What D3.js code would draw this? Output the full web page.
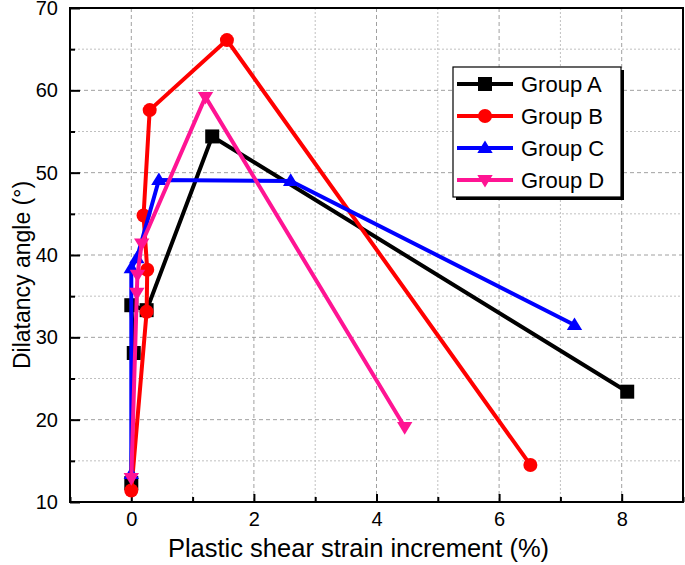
<!DOCTYPE html>
<html><head><meta charset="utf-8">
<script src="https://cdn.jsdelivr.net/npm/d3@7"></script>
<style>body{margin:0;background:#fff}svg{display:block}</style>
</head><body>
<script>
// Data
const groups = ["Group A", "Group B", "Group C", "Group D"];
const colors = ["#000000", "#ff0000", "#0000ff", "#ff1493"];
const symbols = ["square", "circle", "triangle", "triangleDown"];
const groupA = [[0, 12.3], [0.04, 28.1], [0, 33.9], [0.25, 33.3], [1.32, 54.4], [8.09, 23.4]];
const groupB = [[0, 11.4], [0.25, 33.1], [0.26, 38.2], [0.2, 44.8], [0.3, 57.6], [1.56, 66.1], [6.51, 14.5]];
const groupC = [[0, 13.4], [0, 38.4], [0.09, 39.6], [0.45, 49.1], [2.6, 49.0], [7.23, 31.5]];
const groupD = [[0, 12.9], [0.09, 35.4], [0.1, 37.6], [0.17, 41.4], [1.21, 59.2], [4.46, 19.1]];
const series = [groupA, groupB, groupC, groupD];
const xTicks = [0, 2, 4, 6, 8];
const xMinor = [-1, 1, 3, 5, 7, 9];
const yTicks = [10, 20, 30, 40, 50, 60, 70];
const yMinor = [15, 25, 35, 45, 55, 65];

const W = 685, H = 565;
const L = 70, R = 683, T = 8, B = 502;
const FONT = "Liberation Sans, Arial, sans-serif";
const svg = d3.select("body").append("svg").attr("width", W).attr("height", H);
const x = d3.scaleLinear().domain([-1, 9]).range([L, R]);
const y = d3.scaleLinear().domain([10, 70]).range([B, T]);

// grid
const g = svg.append("g");
g.selectAll("line.gxM").data(xTicks).join("line")
  .attr("x1", d => x(d)).attr("x2", d => x(d)).attr("y1", T).attr("y2", B)
  .attr("stroke", "#a0a0a0").attr("stroke-width", 1).attr("stroke-dasharray", "4,3");
g.selectAll("line.gxm").data(xMinor.filter(d => d > -1 && d < 9)).join("line")
  .attr("x1", d => x(d)).attr("x2", d => x(d)).attr("y1", T).attr("y2", B)
  .attr("stroke", "#c0c0c0").attr("stroke-width", 1).attr("stroke-dasharray", "2,2");
g.selectAll("line.gyM").data(yTicks.filter(d => d > 10 && d < 70)).join("line")
  .attr("y1", d => y(d)).attr("y2", d => y(d)).attr("x1", L).attr("x2", R)
  .attr("stroke", "#a0a0a0").attr("stroke-width", 1).attr("stroke-dasharray", "4,3");
g.selectAll("line.gym").data(yMinor).join("line")
  .attr("y1", d => y(d)).attr("y2", d => y(d)).attr("x1", L).attr("x2", R)
  .attr("stroke", "#c0c0c0").attr("stroke-width", 1).attr("stroke-dasharray", "2,2");

// axes
const xAxis = d3.axisBottom(x).tickValues(xTicks).tickSize(-8).tickPadding(10).tickFormat(d3.format("d"));
const xAxisMinor = d3.axisBottom(x).tickValues(xMinor).tickSize(-5).tickFormat("");
const yAxis = d3.axisLeft(y).tickValues(yTicks).tickSize(-10).tickPadding(12).tickFormat(d3.format("d"));
const yAxisMinor = d3.axisLeft(y).tickValues(yMinor).tickSize(-5).tickFormat("");
function styleAxis(sel) {
  sel.select(".domain").remove();
  sel.selectAll(".tick line").attr("stroke", "#000").attr("stroke-width", 2);
  sel.selectAll(".tick text").attr("font-family", FONT).attr("font-size", 20).attr("fill", "#000");
}
svg.append("g").attr("transform", `translate(0,${B})`).call(xAxis).call(styleAxis);
svg.append("g").attr("transform", `translate(0,${B})`).call(xAxisMinor).call(styleAxis);
svg.append("g").attr("transform", `translate(${L},0)`).call(yAxis).call(styleAxis);
svg.append("g").attr("transform", `translate(${L},0)`).call(yAxisMinor).call(styleAxis);

// frame
svg.append("rect").attr("x", L).attr("y", T).attr("width", R - L).attr("height", B - T)
  .attr("fill", "none").attr("stroke", "#000").attr("stroke-width", 2);

// titles
svg.append("text").attr("x", (L + R) / 2 - 18).attr("y", 557).attr("text-anchor", "middle")
  .attr("font-family", FONT).attr("font-size", 25.5).text("Plastic shear strain increment (%)");
svg.append("text").attr("transform", `translate(30,${(T + B) / 2 + 20}) rotate(-90)`).attr("text-anchor", "middle")
  .attr("font-family", FONT).attr("font-size", 23).text("Dilatancy angle (°)");

// marker symbol
function sym(name, size) {
  const s = size;
  if (name === "square") return d3.symbol(d3.symbolSquare, s * s)();
  if (name === "circle") return d3.symbol(d3.symbolCircle, Math.PI * (s / 2) * (s / 2))();
  const h = s * 0.9, w = s * 1.1;
  if (name === "triangle") return `M0,${-h * 0.6}L${w / 2},${h * 0.4}L${-w / 2},${h * 0.4}Z`;
  return `M0,${h * 0.6}L${w / 2},${-h * 0.4}L${-w / 2},${-h * 0.4}Z`;
}

const line = d3.line().x(d => x(d[0])).y(d => y(d[1]));
series.forEach((s, i) => {
  const sg = svg.append("g");
  sg.append("path").datum(s).attr("d", line).attr("fill", "none")
    .attr("stroke", colors[i]).attr("stroke-width", 4).attr("stroke-linejoin", "miter");
  sg.selectAll(null).data(s).join("path")
    .attr("transform", d => `translate(${x(d[0])},${y(d[1])})`)
    .attr("d", sym(symbols[i], 14)).attr("fill", colors[i]);
});

// legend
const lg = svg.append("g");
const lx = 453, ly = 67, lw = 168, lh = 130;
lg.append("rect").attr("x", lx + 3).attr("y", ly + 3).attr("width", lw).attr("height", lh).attr("fill", "#000");
lg.append("rect").attr("x", lx).attr("y", ly).attr("width", lw).attr("height", lh).attr("fill", "#fff")
  .attr("stroke", "#000").attr("stroke-width", 1.2);
groups.forEach((name, i) => {
  const cy = 84 + i * 32;
  lg.append("line").attr("x1", 457).attr("x2", 513).attr("y1", cy).attr("y2", cy)
    .attr("stroke", colors[i]).attr("stroke-width", 4);
  lg.append("path").attr("transform", `translate(485,${cy})`).attr("d", sym(symbols[i], 14)).attr("fill", colors[i]);
  lg.append("text").attr("x", 521).attr("y", cy).attr("dy", "0.35em")
    .attr("font-family", FONT).attr("font-size", 22).text(name);
});
</script>
</body></html>
